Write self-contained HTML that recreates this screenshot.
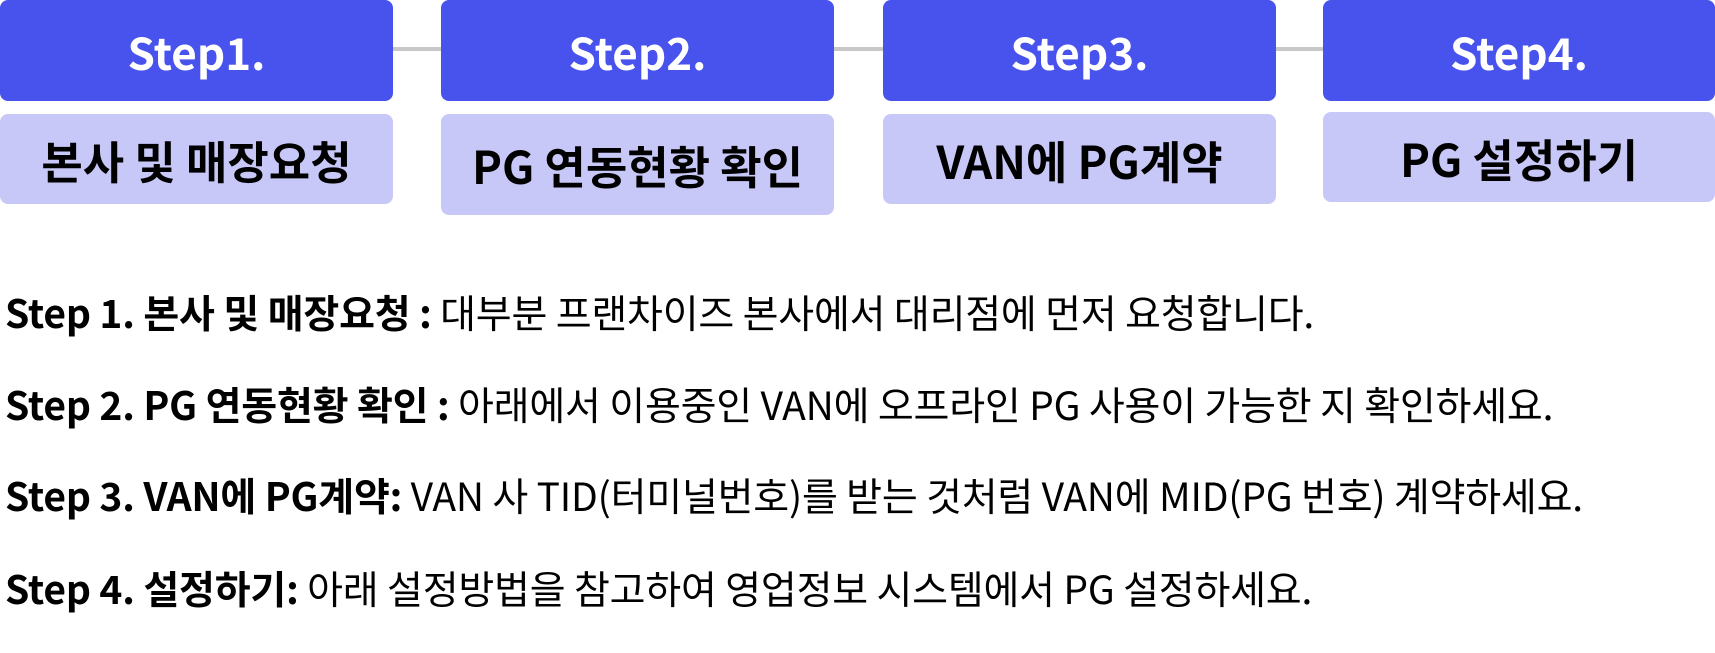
<!DOCTYPE html>
<html><head><meta charset="utf-8"><style>
body{margin:0;width:1715px;height:653px;background:#fff;position:relative;overflow:hidden;font-family:"Liberation Sans","Noto Sans CJK KR",sans-serif}
.b{position:absolute;border-radius:8px;display:flex;align-items:center;justify-content:center;font-family:"Noto Sans CJK KR",sans-serif;font-weight:700;font-size:44px}
.l{font-size:45px}
.t{background:#4852ec;color:#fff;top:0;height:101px;width:393px}
.l{background:#c8c8f8;color:#000;top:114px;width:393px}
.line{position:absolute;top:47px;height:4px;background:#c8c8c8;width:50px}
.p{position:absolute;left:5px;font-family:"Noto Sans CJK KR",sans-serif;font-size:39px;white-space:nowrap;color:#000;line-height:40px;letter-spacing:-0.2px}
.p b{font-weight:700}
</style></head><body>
<div class="line" style="left:393px"></div>
<div class="line" style="left:834px"></div>
<div class="line" style="left:1276px"></div>
<div class="b t" style="left:0">Step1.</div>
<div class="b t" style="left:441px">Step2.</div>
<div class="b t" style="left:883px">Step3.</div>
<div class="b t" style="left:1323px;width:392px">Step4.</div>
<div class="b l" style="left:0;height:90px">본사 및 매장요청</div>
<div class="b l" style="left:441px;height:101px">PG 연동현황 확인</div>
<div class="b l" style="left:883px;height:90px">VAN에 PG계약</div>
<div class="b l" style="left:1323px;width:392px;top:112px;height:90px">PG 설정하기</div>
<div class="p" style="top:292px"><b>Step 1. 본사 및 매장요청 :</b> 대부분 프랜차이즈 본사에서 대리점에 먼저 요청합니다.</div>
<div class="p" style="top:384px"><b>Step 2. PG 연동현황 확인 :</b> 아래에서 이용중인 VAN에 오프라인 PG 사용이 가능한 지 확인하세요.</div>
<div class="p" style="top:475px"><b>Step 3. VAN에 PG계약:</b> VAN 사 TID(터미널번호)를 받는 것처럼 VAN에 MID(PG 번호) 계약하세요.</div>
<div class="p" style="top:568px"><b>Step 4. 설정하기:</b> 아래 설정방법을 참고하여 영업정보 시스템에서 PG 설정하세요.</div>
</body></html>
